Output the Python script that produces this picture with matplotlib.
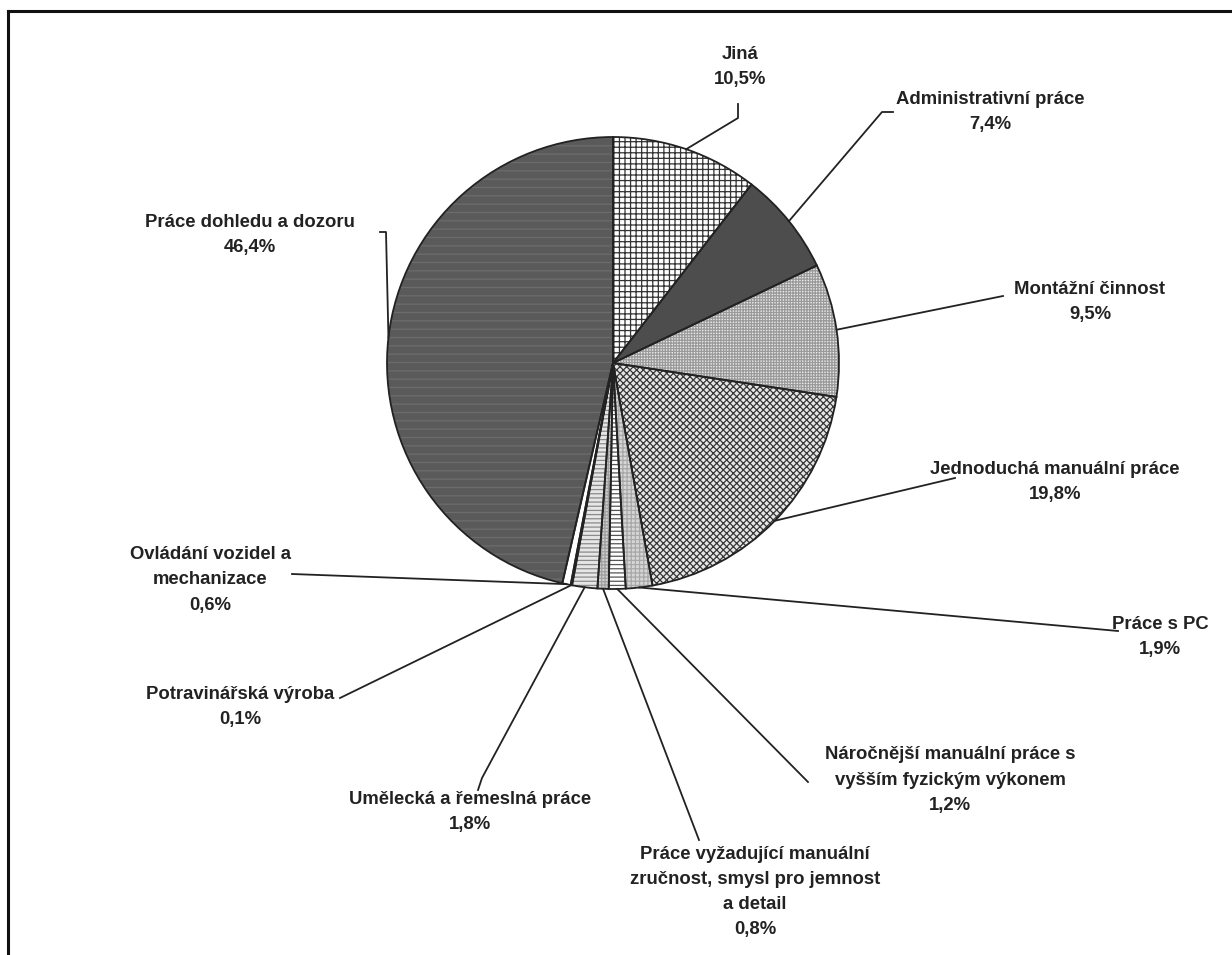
#!/usr/bin/env python3
# pie_prace.py

import numpy as np
import matplotlib.pyplot as plt
from matplotlib.lines import Line2D

W, H = 1232, 955

# data (clockwise from 12 o'clock)
labels = [
    "Jiná",
    "Administrativní práce",
    "Montážní činnost",
    "Jednoduchá manuální práce",
    "Práce s PC",
    "Náročnější manuální práce s\nvyšším fyzickým výkonem",
    "Práce vyžadující manuální\nzručnost, smysl pro jemnost\na detail",
    "Umělecká a řemeslná práce",
    "Potravinářská výroba",
    "Ovládání vozidel a\nmechanizace",
    "Práce dohledu a dozoru",
]
values = [10.5, 7.4, 9.5, 19.8, 1.9, 1.2, 0.8, 1.8, 0.1, 0.6, 46.4]

# styles
faces = ["white", "#4d4d4d", "#e8e8e8", "#e6e6e6", "#d6d6d6", "white",
         "#d0d0d0", "#e6e6e6", "#bbbbbb", "white", "#5a5a5a"]
hatches = ["+++", "", "++++++", "xxxxx", "++++", "----",
           "+++++", "----", "", "", "--"]
hatch_cols = ["#333333", "#4d4d4d", "#9a9a9a", "#383838", "#a8a8a8", "#555555",
              "#a0a0a0", "#8a8a8a", "#bbbbbb", "white", "#6c6c6c"]

# layout in pixels from the top-left corner
center_px = (613, 363)
radius_px = 226
text_pos = [(740, 67), (990, 112), (1090, 302), (1055, 482), (1160, 637),
            (950, 780), (755, 892), (470, 812), (240, 707), (210, 580),
            (250, 235)]
lead_start = [(738, 104), (893, 112), (1003, 296), (955, 478), (1118, 631),
              (808, 782), (699, 840), (478, 790), (340, 698), (292, 574),
              (380, 232)]
lead_elbow = [(738, 118), (882, 112), None, None, None,
              None, None, (482, 778), None, None,
              (386, 232)]


def px(p):
    return (p[0], H - p[1])


def main():
    plt.rcParams["hatch.linewidth"] = 0.9
    fig = plt.figure(figsize=(W / 100, H / 100), dpi=100)
    ax = fig.add_axes([0, 0, 1, 1])

    cx, cy = px(center_px)
    wedges, _ = ax.pie(values, startangle=90, counterclock=False,
                       center=(cx, cy), radius=radius_px, colors=faces,
                       wedgeprops=dict(linewidth=0))
    for w, h, hc in zip(wedges, hatches, hatch_cols):
        if h:
            w.set_edgecolor(hc)
            w.set_hatch(h)
            w.set_linewidth(0)
    # black outlines on top
    ax.pie(values, startangle=90, counterclock=False, center=(cx, cy),
           radius=radius_px,
           wedgeprops=dict(fill=False, edgecolor="#222222", linewidth=1.3))

    ax.set_xlim(0, W)
    ax.set_ylim(0, H)
    ax.set_aspect("auto")
    ax.axis("off")

    for i, w in enumerate(wedges):
        mid = np.deg2rad((w.theta1 + w.theta2) / 2)
        anchor = (cx + radius_px * np.cos(mid), cy + radius_px * np.sin(mid))
        pts = [px(lead_start[i])]
        if lead_elbow[i] is not None:
            pts.append(px(lead_elbow[i]))
        pts.append(anchor)
        xs, ys = zip(*pts)
        ax.plot(xs, ys, color="#222222", linewidth=1.3)

        pct = f"{values[i]:.1f}".replace(".", ",") + "%"
        tx, ty = px(text_pos[i])
        ax.text(tx, ty, labels[i] + "\n" + pct, ha="center", va="center",
                fontsize=13.3, fontweight="bold", family="Liberation Sans",
                color="#222222", linespacing=1.62)

    # frame (only top and left visible in the crop)
    ax.add_line(Line2D([8, W], [H - 11, H - 11], color="#111111",
                       linewidth=2.2, clip_on=False))
    ax.add_line(Line2D([8, 8], [0, H - 11], color="#111111",
                       linewidth=2.2, clip_on=False))

    fig.savefig("out.png", dpi=100)


if __name__ == "__main__":
    main()
